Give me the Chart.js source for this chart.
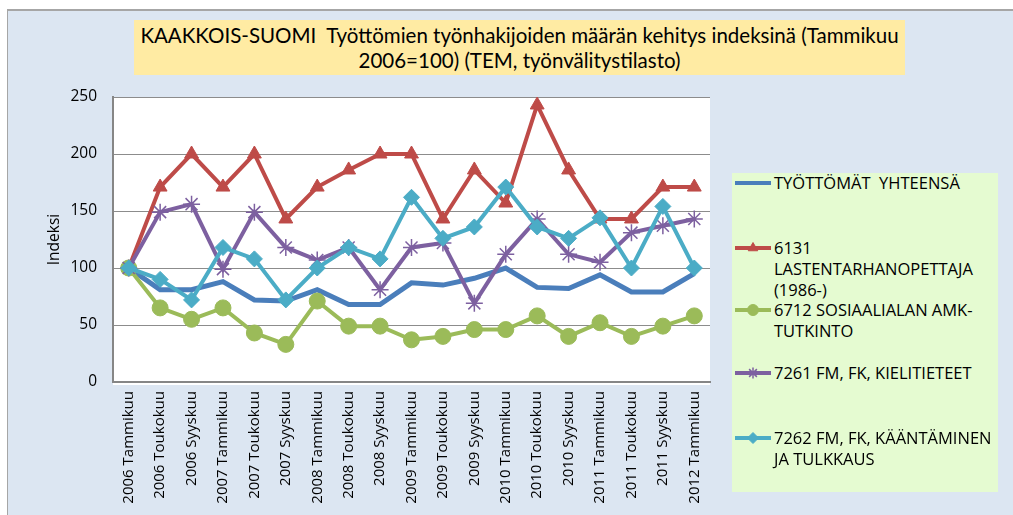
<!DOCTYPE html>
<html>
<head>
<meta charset="utf-8">
<script src="https://cdn.jsdelivr.net/npm/chart.js"></script>
<style>
body { margin: 0; background: #fff; width: 1013px; height: 515px; overflow: hidden; position: relative; font-family: "Open Sans", sans-serif; }
#frame { position: absolute; left: 7px; top: 9px; width: 1010px; height: 510px; background: #DCE6F2; border-left: 1px solid #A6A6A6; border-top: 2px solid #A6A6A6; }
#title { position: absolute; left: 134px; top: 20px; width: 771px; height: 55px; background: #FFEBA3; text-align: center; font-family: "Lato", sans-serif; font-size: 20.5px; line-height: 25px; padding-top: 3px; box-sizing: border-box; color: #000; white-space: pre; }
#legend { position: absolute; left: 732px; top: 173px; width: 266px; height: 319px; background: #E5FBD1; }
.item { position: absolute; left: 0; width: 266px; }
.item canvas { position: absolute; left: 0; top: -10px; }
.item .txt { position: absolute; left: 42px; top: -11px; width: 224px; font-size: 16.5px; line-height: 21px; color: #000; white-space: pre-wrap; }
#chart { position: absolute; left: 0; top: 0; }
</style>
</head>
<body>
<div id="frame"></div>
<div id="title">KAAKKOIS-SUOMI  Työttömien työnhakijoiden määrän kehitys indeksinä (Tammikuu
2006=100) (TEM, työnvälitystilasto)</div>
<div id="legend"></div>
<canvas id="chart" width="1013" height="515"></canvas>
<script>
var categories = ["2006 Tammikuu", "2006 Toukokuu", "2006 Syyskuu", "2007 Tammikuu", "2007 Toukokuu", "2007 Syyskuu",
    "2008 Tammikuu", "2008 Toukokuu", "2008 Syyskuu", "2009 Tammikuu", "2009 Toukokuu", "2009 Syyskuu",
    "2010 Tammikuu", "2010 Toukokuu", "2010 Syyskuu", "2011 Tammikuu", "2011 Toukokuu", "2011 Syyskuu", "2012 Tammikuu"];
var seriesNames = ["TYÖTTÖMÄT  YHTEENSÄ", "6131 LASTENTARHANOPETTAJA (1986-)", "6712 SOSIAALIALAN AMK-TUTKINTO",
    "7261 FM, FK, KIELITIETEET", "7262 FM, FK, KÄÄNTÄMINEN JA TULKKAUS"];
var yhteensa = [100, 81, 81, 88, 72, 71, 81, 68, 68, 87, 85, 91, 100, 83, 82, 94, 79, 79, 95];
var lastentarha = [100, 171, 200, 171, 200, 143, 171, 186, 200, 200, 143, 186, 157, 243, 186, 143, 143, 171, 171];
var sosiaaliala = [100, 65, 55, 65, 43, 33, 71, 49, 49, 37, 40, 46, 46, 58, 40, 52, 40, 49, 58];
var kielitieteet = [100, 149, 156, 99, 149, 118, 107, 118, 81, 118, 122, 69, 112, 143, 112, 105, 131, 137, 143];
var kaantaminen = [100, 90, 72, 118, 108, 72, 100, 118, 108, 162, 126, 136, 171, 136, 126, 144, 100, 154, 100];
var yTicks = [0, 50, 100, 150, 200, 250];

var colors = ["#4A7EBB", "#BE4B48", "#9BBB59", "#7D60A0", "#4BACC6"];
var styles = [false, "triangle", "circle", "star", "rectRot"];
var legendTops = [10, 75, 137, 200, 265];

function makeSet(i, values) {
    return {
        label: seriesNames[i],
        data: values,
        borderColor: colors[i],
        backgroundColor: colors[i],
        borderWidth: i == 0 ? 5 : 4,
        pointStyle: styles[i],
        pointRadius: styles[i] ? (i == 3 ? 8.5 : 8) : 0,
        pointBorderWidth: i == 3 ? 1.5 : 1,
        pointHoverRadius: 0,
        tension: 0,
        order: 4 - i
    };
}

// white plot area
var plotBg = {
    id: "plotBg",
    beforeDraw: function (chart) {
        var a = chart.chartArea, ctx = chart.ctx;
        ctx.save();
        ctx.fillStyle = "#fff";
        ctx.fillRect(a.left, a.top, a.right - a.left, a.bottom - a.top + 3);
        ctx.restore();
    }
};

var chart = new Chart("chart", {
    type: "line",
    data: {
        labels: categories,
        datasets: [makeSet(0, yhteensa), makeSet(1, lastentarha), makeSet(2, sosiaaliala), makeSet(3, kielitieteet), makeSet(4, kaantaminen)]
    },
    plugins: [plotBg],
    options: {
        responsive: false,
        animation: false,
        devicePixelRatio: 1,
        layout: { padding: { left: 40, top: 97, right: 303, bottom: 0 } },
        plugins: { legend: { display: false }, tooltip: { enabled: false } },
        scales: {
            x: {
                offset: true,
                grid: { display: false, drawTicks: false },
                border: { color: "#868686", width: 2 },
                ticks: { autoSkip: false, minRotation: 90, maxRotation: 90, padding: 9, color: "#000", font: { family: "Open Sans", size: 15 } },
                afterFit: function (s) { s.height = 133; }
            },
            y: {
                min: 0, max: 250,
                afterBuildTicks: function (s) { s.ticks = yTicks.map(function (v) { return { value: v }; }); },
                grid: { color: "#8C8C8C", lineWidth: 1, drawTicks: false },
                border: { color: "#868686", width: 2 },
                ticks: { padding: 16, color: "#000", font: { family: "Open Sans", size: 15.5 } },
                title: { display: true, text: "Indeksi", color: "#000", font: { family: "Open Sans", size: 15.5 }, padding: { top: 5, bottom: 0 } },
                afterFit: function (s) { s.width = 73; }
            }
        }
    }
});

function createLegend(chart) {
    var box = document.getElementById("legend");
    chart.data.datasets.forEach(function (ds, i) {
        var item = document.createElement("div");
        item.className = "item";
        item.style.top = legendTops[i] + "px";
        var c = document.createElement("canvas");
        c.width = 42; c.height = 20;
        var ctx = c.getContext("2d");
        ctx.strokeStyle = ds.borderColor;
        ctx.lineWidth = 4;
        ctx.beginPath();
        ctx.moveTo(3, 10);
        ctx.lineTo(39, 10);
        ctx.stroke();
        if (ds.pointStyle && Chart.helpers && Chart.helpers.drawPoint) {
            ctx.fillStyle = ds.backgroundColor;
            ctx.lineWidth = ds.pointBorderWidth;
            Chart.helpers.drawPoint(ctx, { pointStyle: ds.pointStyle, radius: 5.5, borderWidth: ds.pointBorderWidth, rotation: 0 }, 21, 10);
        }
        var t = document.createElement("div");
        t.className = "txt";
        t.textContent = ds.label;
        item.appendChild(c);
        item.appendChild(t);
        box.appendChild(item);
    });
}
createLegend(chart);
</script>
</body>
</html>
